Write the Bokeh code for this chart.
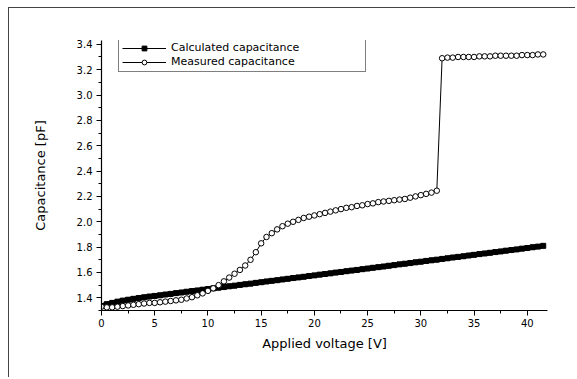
from bokeh.plotting import figure
from bokeh.models import Legend, LegendItem, Range1d, FixedTicker
from bokeh.embed import file_html
from bokeh.resources import INLINE

voltage = [0.0, 0.5, 1.0, 1.5, 2.0, 2.5, 3.0, 3.5, 4.0, 4.5, 5.0, 5.5, 6.0, 6.5, 7.0, 7.5,
           8.0, 8.5, 9.0, 9.5, 10.0, 10.5, 11.0, 11.5, 12.0, 12.5, 13.0, 13.5, 14.0, 14.5,
           15.0, 15.5, 16.0, 16.5, 17.0, 17.5, 18.0, 18.5, 19.0, 19.5, 20.0, 20.5, 21.0, 21.5,
           22.0, 22.5, 23.0, 23.5, 24.0, 24.5, 25.0, 25.5, 26.0, 26.5, 27.0, 27.5, 28.0, 28.5,
           29.0, 29.5, 30.0, 30.5, 31.0, 31.5, 32.0, 32.5, 33.0, 33.5, 34.0, 34.5, 35.0, 35.5,
           36.0, 36.5, 37.0, 37.5, 38.0, 38.5, 39.0, 39.5, 40.0, 40.5, 41.0, 41.5]

calculated = [1.335, 1.35, 1.36, 1.37, 1.378, 1.385, 1.392, 1.398, 1.404, 1.41, 1.415, 1.42,
              1.426, 1.431, 1.437, 1.442, 1.448, 1.453, 1.458, 1.464, 1.469, 1.475, 1.48,
              1.485, 1.491, 1.496, 1.502, 1.507, 1.512, 1.518, 1.523, 1.529, 1.534, 1.539,
              1.545, 1.55, 1.556, 1.561, 1.566, 1.572, 1.577, 1.583, 1.588, 1.593, 1.599,
              1.604, 1.61, 1.615, 1.62, 1.626, 1.631, 1.637, 1.642, 1.647, 1.653, 1.658,
              1.664, 1.669, 1.674, 1.68, 1.685, 1.691, 1.696, 1.701, 1.707, 1.712, 1.718,
              1.723, 1.728, 1.734, 1.739, 1.745, 1.75, 1.755, 1.761, 1.766, 1.772, 1.777,
              1.782, 1.788, 1.793, 1.799, 1.804, 1.81]

measured = [1.33, 1.325, 1.325, 1.33, 1.335, 1.34, 1.345, 1.35, 1.355, 1.36, 1.36, 1.365,
            1.37, 1.375, 1.38, 1.385, 1.395, 1.405, 1.42, 1.435, 1.455, 1.475, 1.50, 1.53,
            1.56, 1.59, 1.62, 1.655, 1.70, 1.76, 1.83, 1.88, 1.91, 1.94, 1.965, 1.985, 2.0,
            2.015, 2.03, 2.04, 2.05, 2.06, 2.07, 2.08, 2.09, 2.10, 2.11, 2.115, 2.125, 2.13,
            2.14, 2.145, 2.155, 2.16, 2.165, 2.17, 2.175, 2.18, 2.19, 2.20, 2.21, 2.22, 2.23,
            2.245, 3.29, 3.295, 3.295, 3.30, 3.30, 3.30, 3.30, 3.305, 3.305, 3.305, 3.31,
            3.31, 3.31, 3.31, 3.31, 3.315, 3.315, 3.315, 3.32, 3.32]

x_ticks = [0, 5, 10, 15, 20, 25, 30, 35, 40]
y_ticks = [1.4, 1.6, 1.8, 2.0, 2.2, 2.4, 2.6, 2.8, 3.0, 3.2, 3.4]

FONT = "DejaVu Sans"

p = figure(width=567, height=370, output_backend="svg", toolbar_location=None,
           x_range=Range1d(0, 41.9), y_range=Range1d(1.3, 3.43),
           min_border_left=92, min_border_right=29, min_border_top=32, min_border_bottom=68)
p.styles = {"margin-top": "7px", "margin-left": "8px",
            "border-top": "1px solid #444", "border-left": "1px solid #444",
            "border-right": "none", "border-bottom": "none"}
p.outline_line_color = None
p.xgrid.visible = False
p.ygrid.visible = False
p.background_fill_color = "white"

for ax in (p.xaxis[0], p.yaxis[0]):
    ax.axis_line_color = "black"
    ax.axis_line_width = 1.2
    ax.major_tick_line_color = "black"
    ax.minor_tick_line_color = "black"
    ax.major_tick_in = 0
    ax.major_tick_out = 5
    ax.minor_tick_in = 0
    ax.minor_tick_out = 3
    ax.major_label_text_font = FONT
    ax.major_label_text_font_size = "10px"
    ax.major_label_text_color = "black"
    ax.axis_label_text_font = FONT
    ax.axis_label_text_font_size = "13px"
    ax.axis_label_text_font_style = "normal"
    ax.axis_label_text_color = "black"

p.xaxis[0].ticker = FixedTicker(ticks=x_ticks, minor_ticks=[t + 2.5 for t in x_ticks])
p.yaxis[0].ticker = FixedTicker(ticks=y_ticks, minor_ticks=[t + 0.1 for t in y_ticks[:-1]] + [1.3])
p.yaxis[0].major_label_overrides = {t: f"{t:.1f}" for t in y_ticks}
p.xaxis.axis_label = "Applied voltage [V]"
p.yaxis.axis_label = "Capacitance [pF]"
p.xaxis.major_label_standoff = 3
p.yaxis.major_label_standoff = 4
p.xaxis.axis_label_standoff = 6
p.yaxis.axis_label_standoff = 26

cl = p.line(voltage, calculated, line_color="black", line_width=5)
cs = p.scatter(voltage, calculated, marker="square", size=5, fill_color="black", line_color="black")
ml = p.line(voltage, measured, line_color="black", line_width=1)
ms = p.scatter(voltage, measured, marker="circle", size=5.5, fill_color="white",
               line_color="black", line_width=1)

legend = Legend(items=[LegendItem(label="Calculated capacitance", renderers=[ml, cs]),
                       LegendItem(label="Measured capacitance", renderers=[ml, ms])],
                location=(17, 238))
legend.border_line_color = "black"
legend.border_line_width = 1
legend.padding = 3
legend.spacing = 1
legend.margin = 0
legend.glyph_width = 44
legend.glyph_height = 12
legend.label_height = 12
legend.label_width = 191
legend.label_standoff = 5
legend.label_text_font = FONT
legend.label_text_font_size = "11px"
legend.label_text_color = "black"
legend.background_fill_alpha = 1
p.add_layout(legend)

open("out.html", "w").write(file_html(p, INLINE))
